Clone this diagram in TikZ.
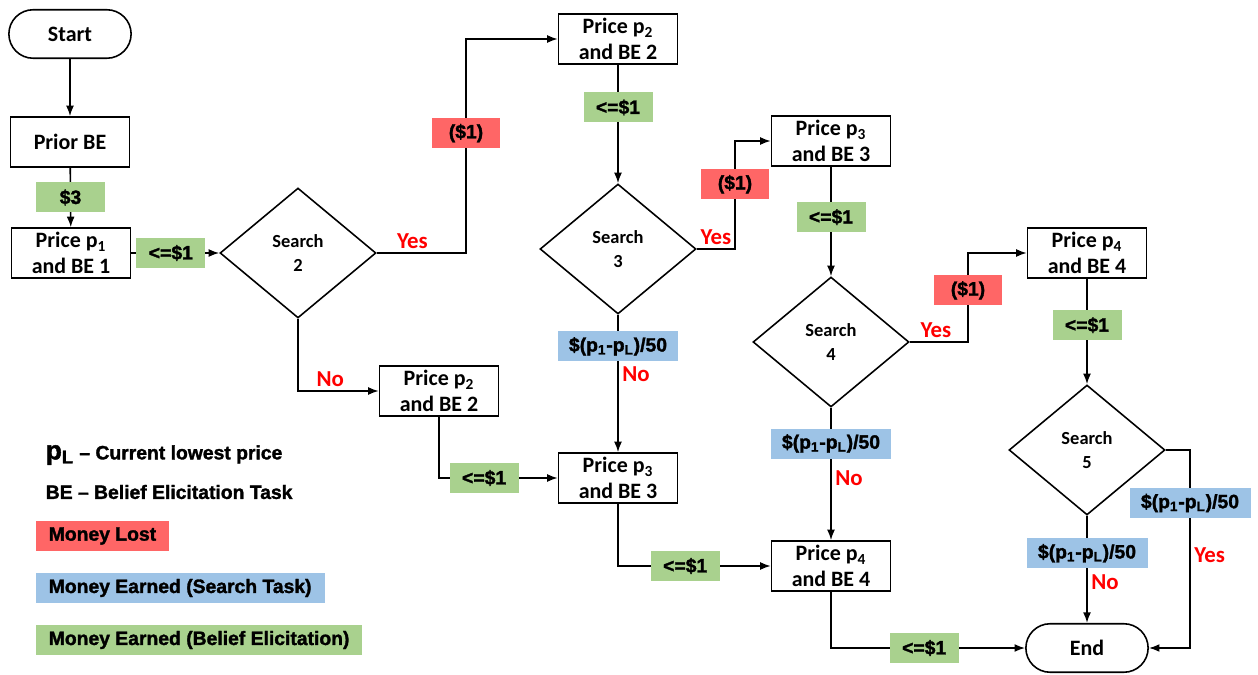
\documentclass[tikz,border=0pt]{standalone}
\usepackage{fontspec}
\setmainfont{Carlito}
\newfontfamily\tagfont[BoldFeatures={FakeBold=1.6}]{Liberation Sans}
\usepackage{tikz}
\usetikzlibrary{positioning,arrows.meta,shapes.geometric,shapes.misc,calc}

\definecolor{lossred}{RGB}{255,102,102}
\definecolor{searchblue}{RGB}{157,195,230}
\definecolor{beliefgreen}{RGB}{169,209,142}

\begin{document}
\begin{tikzpicture}[
    x=0.02cm, y=-0.02cm,
    >={Latex[length=6pt,width=4.5pt]},
    line width=0.9pt,
    term/.style={rounded rectangle, draw, minimum width=2.68cm, minimum height=0.97cm, font=\fontsize{12.5}{14.5}\selectfont\bfseries},
    proc/.style={rectangle, draw, minimum width=2.38cm, minimum height=1cm, inner sep=1pt, align=center, font=\fontsize{12.5}{14.5}\selectfont\bfseries},
    decide/.style={diamond, draw, minimum width=3.12cm, minimum height=2.6cm, inner sep=0pt, align=center, font=\fontsize{10.5}{13.6}\selectfont\bfseries},
    tag/.style={minimum height=0.6cm, inner xsep=2pt, inner ysep=0pt, font=\tagfont\fontsize{11}{12}\selectfont\bfseries},
    gain/.style={tag, fill=beliefgreen, minimum width=1.38cm},
    loss/.style={tag, fill=lossred, minimum width=1.36cm},
    earn/.style={tag, fill=searchblue, minimum width=2.42cm},
    ans/.style={text=red, inner sep=2pt, font=\fontsize{13}{14}\selectfont\bfseries},
    key/.style={tag, anchor=west, inner xsep=0.26cm}
]
\useasboundingbox (0,0) rectangle (1258,675);

% Start and first price
\node[term] (start) at (70,34) {Start};
\node[proc] (prior) at (70,142) {Prior BE};
\node[proc] (p1) at (71,253) {Price p\textsubscript{1}\\and BE 1};

% Search decisions
\node[decide] (s2) at (298,253) {Search\\2};
\node[decide] (s3) at (618,249) {Search\\3};
\node[decide] (s4) at (831,342) {Search\\4};
\node[decide] (s5) at (1087,450) {Search\\5};

% Upper row: keep searching
\node[proc] (p2a) at (618,39) {Price p\textsubscript{2}\\and BE 2};
\node[proc] (p3a) at (831,141) {Price p\textsubscript{3}\\and BE 3};
\node[proc] (p4a) at (1087,253) {Price p\textsubscript{4}\\and BE 4};

% Lower row: stop searching
\node[proc] (p2b) at (439,391) {Price p\textsubscript{2}\\and BE 2};
\node[proc] (p3b) at (618,478) {Price p\textsubscript{3}\\and BE 3};
\node[proc] (p4b) at (831,566) {Price p\textsubscript{4}\\and BE 4};
\node[term] (end) at (1087,648) {End};

% Bends of the Yes branches
\coordinate (y2) at (466,253);
\coordinate (y3) at (735,249);
\coordinate (y4) at (968,342);
\coordinate (y5) at (1190,450);

\draw[->] (start) -- (prior);
\draw[->] (prior) -- node[gain] {\$3} (p1);
\draw[->] (p1) -- node[gain, pos=0.45] {<=\$1} (s2);

% Yes: search again
\draw[->] (s2.east) -- node[ans, above, pos=0.4] {Yes} (y2) |- node[loss, pos=0.28] {(\$1)} (p2a);
\draw[->] (p2a) -- node[gain, pos=0.36] {<=\$1} (s3);
\draw[->] (s3.east) -- node[ans, above] {Yes} (y3) |- node[loss, pos=0.3] {(\$1)} (p3a);
\draw[->] (p3a) -- node[gain, pos=0.46] {<=\$1} (s4);
\draw[->] (s4.east) -- node[ans, above, pos=0.45] {Yes} (y4) |- node[loss, pos=0.29] {(\$1)} (p4a);
\draw[->] (p4a) -- node[gain, pos=0.44] {<=\$1} (s5);
\draw[->] (s5.east) -- (y5) |- node[earn, pos=0.134] {\$(p\textsubscript{1}-p\textsubscript{L})/50}
    node[ans, right, pos=0.265] {Yes} (end);

% No: stop and move on
\draw[->] (s2.south) |- node[ans, above, pos=0.7] {No} (p2b);
\draw[->] (p2b) |- node[gain, pos=0.69] {<=\$1} (p3b);
\draw[->] (s3) -- node[earn, pos=0.23] {\$(p\textsubscript{1}-p\textsubscript{L})/50}
    node[ans, right, pos=0.43] {No} (p3b);
\draw[->] (p3b) |- node[gain, pos=0.72] {<=\$1} (p4b);
\draw[->] (s4) -- node[earn, pos=0.27] {\$(p\textsubscript{1}-p\textsubscript{L})/50}
    node[ans, right, pos=0.53] {No} (p4b);
\draw[->] (p4b) |- node[gain, pos=0.74] {<=\$1} (end);
\draw[->] (s5) -- node[earn, pos=0.35] {\$(p\textsubscript{1}-p\textsubscript{L})/50}
    node[ans, right, pos=0.62] {No} (end);

% Legend
\node[anchor=west, inner sep=0pt, font=\tagfont\fontsize{11}{12}\selectfont\bfseries] (lowest) at (45,455)
    {{\fontsize{15}{16}\selectfont p\textsubscript{L}} \textendash\ Current lowest price};
\node[anchor=west, inner sep=0pt, font=\tagfont\fontsize{11}{12}\selectfont\bfseries] (belief) at (45,492)
    {BE \textendash\ Belief Elicitation Task};
\node[key, fill=lossred] (klost) at (35,536) {Money Lost};
\node[key, fill=searchblue] (ksearch) at (35,588) {Money Earned (Search Task)};
\node[key, fill=beliefgreen] (kbelief) at (35,640) {Money Earned (Belief Elicitation)};
\end{tikzpicture}
\end{document}
